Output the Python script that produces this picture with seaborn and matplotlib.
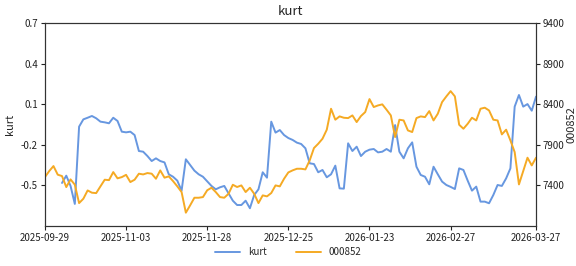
import numpy as np
import pandas as pd
import matplotlib
matplotlib.use("Agg")
import matplotlib.pyplot as plt
import seaborn as sns

# trading calendar
holidays = pd.to_datetime(["2025-10-01", "2025-10-02", "2025-10-03", "2025-10-06",
                           "2025-10-07", "2025-10-08", "2026-01-01", "2026-01-02",
                           "2026-02-16", "2026-02-17", "2026-02-18", "2026-02-19",
                           "2026-02-20", "2026-02-23"])
days = pd.bdate_range("2025-09-29", "2026-03-27")
days = days[~days.isin(holidays)]
dates = [d.strftime("%Y-%m-%d") for d in days]

kurt = [np.nan, np.nan, np.nan, np.nan,
        -0.482, -0.428, -0.504, -0.637, -0.066, -0.012, 0.000, 0.013, -0.004, -0.029,
        -0.034, -0.041, 0.000, -0.024, -0.103, -0.108,
        -0.103, -0.128, -0.246, -0.251, -0.283, -0.320, -0.300, -0.320, -0.330, -0.418,
        -0.436, -0.465, -0.539, -0.307, -0.349, -0.391, -0.418, -0.436, -0.470,
        -0.504, -0.529, -0.514, -0.504, -0.559, -0.613, -0.645, -0.645, -0.613, -0.669,
        -0.571, -0.529, -0.403, -0.443, -0.029, -0.110, -0.091, -0.128, -0.150,
        -0.164, -0.184, -0.194, -0.226, -0.337, -0.342, -0.403, -0.386, -0.440, -0.418,
        -0.354, -0.522, -0.524, -0.189, -0.246, -0.214, -0.283, -0.251, -0.236,
        -0.231, -0.256, -0.251, -0.231, -0.251, -0.054, -0.251, -0.300, -0.226, -0.182,
        -0.362, -0.423, -0.436, -0.492, -0.362, -0.418, -0.472, -0.497, -0.511,
        -0.527, -0.374, -0.386, -0.465, -0.539, -0.509, -0.620, -0.620, -0.632, -0.571,
        -0.497, -0.504, -0.448, -0.374, 0.082, 0.168, 0.082, 0.101, 0.052, 0.156]

idx852 = [7502, 7576, 7638, 7532, 7515, 7379, 7474, 7409, 7182, 7236,
          7338, 7310, 7305, 7388, 7470, 7465, 7564, 7487, 7502, 7530,
          7441, 7470, 7544, 7535, 7552, 7544, 7482, 7585, 7495, 7511,
          7453, 7388, 7318, 7064, 7154, 7248, 7248, 7256, 7340,
          7371, 7318, 7256, 7248, 7297, 7408, 7380, 7400, 7318, 7371,
          7297, 7182, 7277, 7265, 7306, 7400, 7388, 7482, 7560,
          7585, 7605, 7605, 7597, 7708, 7860, 7913, 7975, 8086, 8344,
          8209, 8250, 8233, 8229, 8262, 8180, 8254, 8303, 8463,
          8365, 8385, 8398, 8332, 8262, 7995, 8209, 8200, 8077, 8057,
          8229, 8250, 8241, 8315, 8200, 8283, 8426, 8496, 8561,
          8496, 8147, 8098, 8159, 8233, 8200, 8344, 8357, 8323, 8209,
          8200, 8028, 8086, 7954, 7810, 7412, 7576, 7741, 7646, 7741]

tick_labels = ["2025-09-29", "2025-11-03", "2025-11-28", "2025-12-25",
               "2026-01-23", "2026-02-27", "2026-03-27"]
left_ticks = [-0.5, -0.2, 0.1, 0.4, 0.7]
right_ticks = [7400, 7900, 8400, 8900, 9400]

df = pd.DataFrame({"i": np.arange(len(dates)), "date": dates,
                   "kurt": kurt, "000852": idx852})

sns.set_style("white")
plt.rcParams["font.family"] = ["Noto Sans CJK SC", "DejaVu Sans"]
plt.rcParams["axes.unicode_minus"] = False

fig, ax = plt.subplots(figsize=(5.76, 2.66), dpi=100)
fig.subplots_adjust(left=0.078, right=0.9306, top=0.9135, bottom=0.1504)

blue = "#6797E0"
orange = "#F5AA24"
sns.lineplot(data=df, x="i", y="kurt", ax=ax, color=blue, linewidth=1.4, label="kurt", legend=False)
ax2 = ax.twinx()
sns.lineplot(data=df, x="i", y="000852", ax=ax2, color=orange, linewidth=1.4, label="000852", legend=False)

ax.set_ylim(-0.8, 0.7)
ax.set_yticks(left_ticks)
ax.set_yticklabels([f"{v:.1f}" for v in left_ticks])
ax2.set_ylim(6900, 9400)
ax2.set_yticks(right_ticks)

pos = [dates.index(t) for t in tick_labels]
ax.set_xlim(0, len(dates) - 1)
ax.set_xticks(pos)
ax.set_xticklabels(tick_labels)

for a in (ax, ax2):
    a.tick_params(labelsize=7, length=3, width=0.8, colors="#222222", pad=2)
    for s in a.spines.values():
        s.set_color("#333333")
        s.set_linewidth(0.8)
ax.tick_params(axis="both", direction="out", left=True, bottom=True)
ax2.tick_params(axis="y", direction="out", right=True)

ax.set_xlabel("")
ax.set_ylabel("kurt", fontsize=8, labelpad=4)
ax2.set_ylabel("000852", fontsize=8, labelpad=1)
ax.set_title("kurt", fontsize=9.5, pad=6)

h1, l1 = ax.get_legend_handles_labels()
h2, l2 = ax2.get_legend_handles_labels()
fig.legend(h1 + h2, l1 + l2, loc="lower center", ncol=2, frameon=False,
           fontsize=7, bbox_to_anchor=(0.5, 0.0), handlelength=2.6, columnspacing=3)

fig.savefig("out.png", dpi=100)
